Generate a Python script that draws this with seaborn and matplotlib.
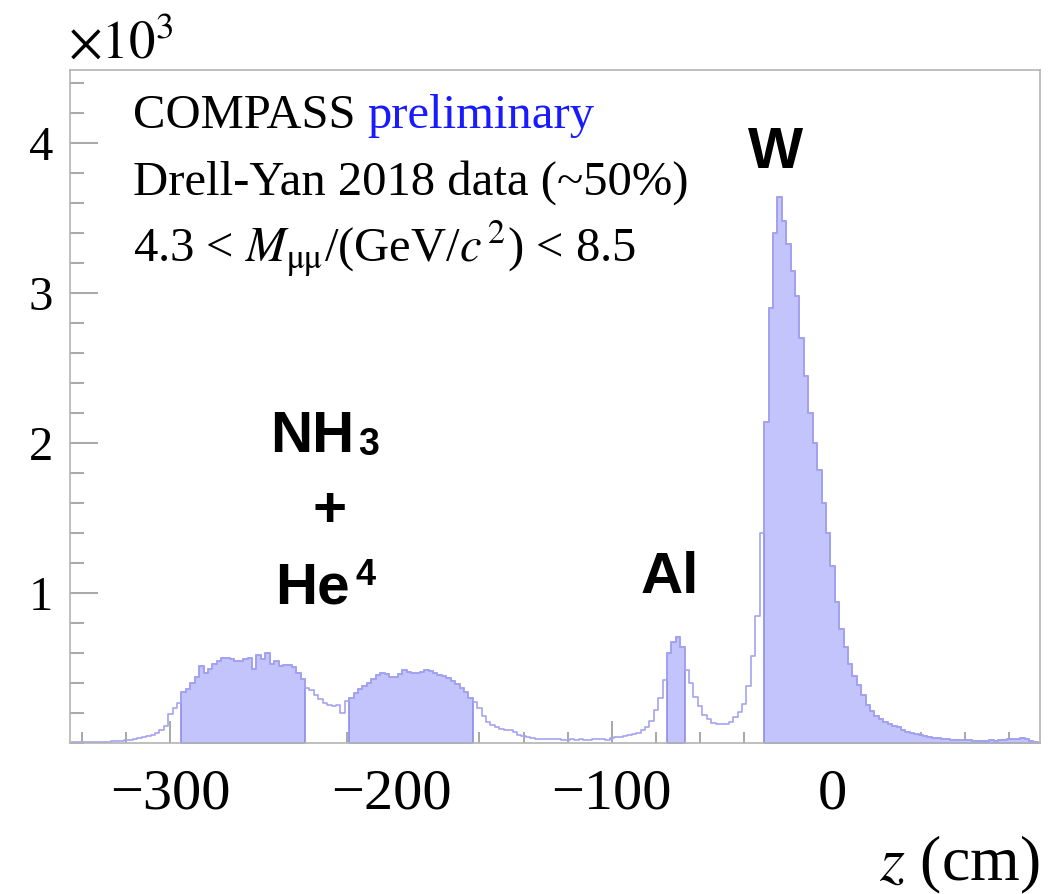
import numpy as np
import pandas as pd
import matplotlib
matplotlib.use("Agg")
import matplotlib.pyplot as plt
import seaborn as sns
from matplotlib.ticker import MultipleLocator, FixedLocator

# ---------------- data ----------------
bin_width = 2
first_center = -344
counts = [
    8, 10, 7, 9, 12, 9, 8, 12, 11, 14,              # -344 .. -326
    15, 17, 21, 25, 29, 33, 40, 46, 55, 66,         # -324 .. -306
    88, 115, 195, 238, 272, 340, 365, 405, 440, 515,  # -304 .. -286
    468, 498, 528, 548, 566, 570, 560, 552, 548, 560,  # -284 .. -266
    568, 495, 590, 560, 605, 530, 550, 515, 522, 525,  # -264 .. -246
    510, 466, 430, 367, 355, 322, 295, 272, 258, 246,  # -244 .. -226
    255, 205, 280, 300, 338, 360, 380, 405, 432, 458,  # -224 .. -206
    470, 460, 442, 440, 465, 490, 478, 470, 466, 476,  # -204 .. -186
    488, 480, 468, 455, 446, 433, 416, 396, 372, 342,  # -184 .. -166
    302, 278, 238, 180, 140, 120, 106, 98, 92, 86,     # -164 .. -146
    76, 58, 50, 41, 36, 32, 30, 29, 28, 30,            # -144 .. -126
    29, 25, 23, 26, 22, 28, 20, 25, 30, 27,            # -124 .. -106
    26, 24, 34, 40, 42, 48, 55, 62, 72, 86,            # -104 .. -86
    110, 150, 220, 305, 425, 600, 675, 706, 640, 492,  # -84 .. -66
    400, 312, 246, 190, 160, 136, 128, 126, 132, 142,  # -64 .. -46
    176, 212, 262, 380, 580, 850, 1400, 2144, 2900, 3400,  # -44 .. -26
    3644, 3480, 3330, 3150, 2980, 2700, 2450, 2200, 2000, 1820,  # -24 .. -6
    1600, 1400, 1180, 940, 760, 640, 530, 450, 390, 320,  # -4 .. 14
    256, 215, 185, 162, 140, 128, 115, 106, 92, 78,    # 16 .. 34
    70, 60, 55, 48, 42, 38, 33, 29, 27, 25,            # 36 .. 54
    22, 24, 21, 19, 17, 16, 18, 17, 20, 18,            # 56 .. 74
    22, 24, 28, 30, 31, 33, 28, 18, 10, 5,             # 76 .. 94
]
fill_ranges = [(-295, -239), (-219, -163), (-75, -67), (-31, 95)]
x_ticks = [-300, -200, -100, 0]
y_ticks = [1000, 2000, 3000, 4000]
y_tick_labels = ["1", "2", "3", "4"]

# ---------------- derived ----------------
counts = np.array(counts, dtype=float)
centers = first_center + bin_width * np.arange(len(counts))
edges = np.arange(centers[0] - bin_width / 2, centers[-1] + bin_width / 2 + 0.01, bin_width)
df = pd.DataFrame({"z": centers, "n": counts})

sns.set_style("white")
plt.rcParams["font.family"] = ["Liberation Serif", "DejaVu Serif"]
plt.rcParams["mathtext.fontset"] = "stix"
plt.rcParams["text.color"] = "black"

W, H = 1055, 894
fig = plt.figure(figsize=(W / 100, H / 100), dpi=100)
ax = fig.add_axes([70 / W, 1 - 743.3 / H, (1040 - 70) / W, (743.3 - 70) / H])

line_col = "#a4a4f2"
fill_face = "#c4c4fc"
fill_edge = "#8c8ce6"

sns.histplot(data=df, x="z", weights="n", bins=list(edges), element="step", fill=False,
             color=line_col, linewidth=1.2, ax=ax)
for lo, hi in fill_ranges:
    sub = df[(df.z > lo) & (df.z < hi)]
    sub_edges = list(np.arange(lo, hi + 0.01, bin_width))
    sns.histplot(data=sub, x="z", weights="n", bins=sub_edges, element="step", fill=True,
                 facecolor=fill_face, edgecolor=fill_edge, linewidth=1.2, ax=ax)

ax.set_xlim(-345.5, 94)
ax.set_ylim(0, 4490)
ax.set_xlabel("")
ax.set_ylabel("")

ax.xaxis.set_major_locator(FixedLocator(x_ticks))
ax.xaxis.set_minor_locator(MultipleLocator(20))
ax.yaxis.set_major_locator(FixedLocator(y_ticks))
ax.yaxis.set_minor_locator(MultipleLocator(200))
ax.set_yticklabels(y_tick_labels)
ax.tick_params(which="both", direction="in", color="#9a9a9a", width=1.2, labelcolor="black",
               top=False, right=False, bottom=True, left=True)
ax.tick_params(axis="x", which="major", length=16, pad=18, labelsize=42)
ax.tick_params(axis="x", which="minor", length=8)
ax.tick_params(axis="y", which="major", length=20, pad=12, labelsize=35)
ax.tick_params(axis="y", which="minor", length=10)
for s in ax.spines.values():
    s.set_color("#b4b4b4")
    s.set_linewidth(1.2)

def fx(px):
    return px / W

def fy(py):
    return 1 - py / H

# exponent label
fig.text(fx(68), fy(58), r"$\times10^{3}$", fontsize=38, va="baseline", ha="left")
# legend text
t = fig.text(fx(133), fy(128), "COMPASS ", fontsize=35, va="baseline", ha="left")
fig.canvas.draw()
bb = t.get_window_extent()
fig.text(bb.x1 / W, fy(128), "preliminary", fontsize=35, va="baseline", ha="left", color="#1a1aff")
fig.text(fx(133), fy(195), "Drell-Yan 2018 data (~50%)", fontsize=35, va="baseline", ha="left")
fig.text(fx(133), fy(262), r"4.3 < $M_{\mathrm{μμ}}$/(GeV/$c^{\,2}$) < 8.5", fontsize=35,
         va="baseline", ha="left")

# target labels
sans = ["Liberation Sans", "DejaVu Sans"]
fig.text(fx(775), fy(168), "W", fontsize=42, fontweight="bold", family=sans, ha="center", va="baseline")
fig.text(fx(670), fy(593), "Al", fontsize=42, fontweight="bold", family=sans, ha="center", va="baseline")
fig.text(fx(270), fy(452), "NH", fontsize=42, fontweight="bold", family=sans, ha="left", va="baseline")
fig.text(fx(358), fy(455), "3", fontsize=27, fontweight="bold", family=sans, ha="left", va="baseline")
fig.text(fx(330), fy(527), "+", fontsize=42, fontweight="bold", family=sans, ha="center", va="baseline")
fig.text(fx(275), fy(603), "He", fontsize=42, fontweight="bold", family=sans, ha="left", va="baseline")
fig.text(fx(356), fy(585), "4", fontsize=26, fontweight="bold", family=sans, ha="left", va="baseline")

# axis title
fig.text(fx(1040), fy(880), r"$z$ (cm)", fontsize=46, ha="right", va="baseline")

fig.savefig("out.png", dpi=100)
